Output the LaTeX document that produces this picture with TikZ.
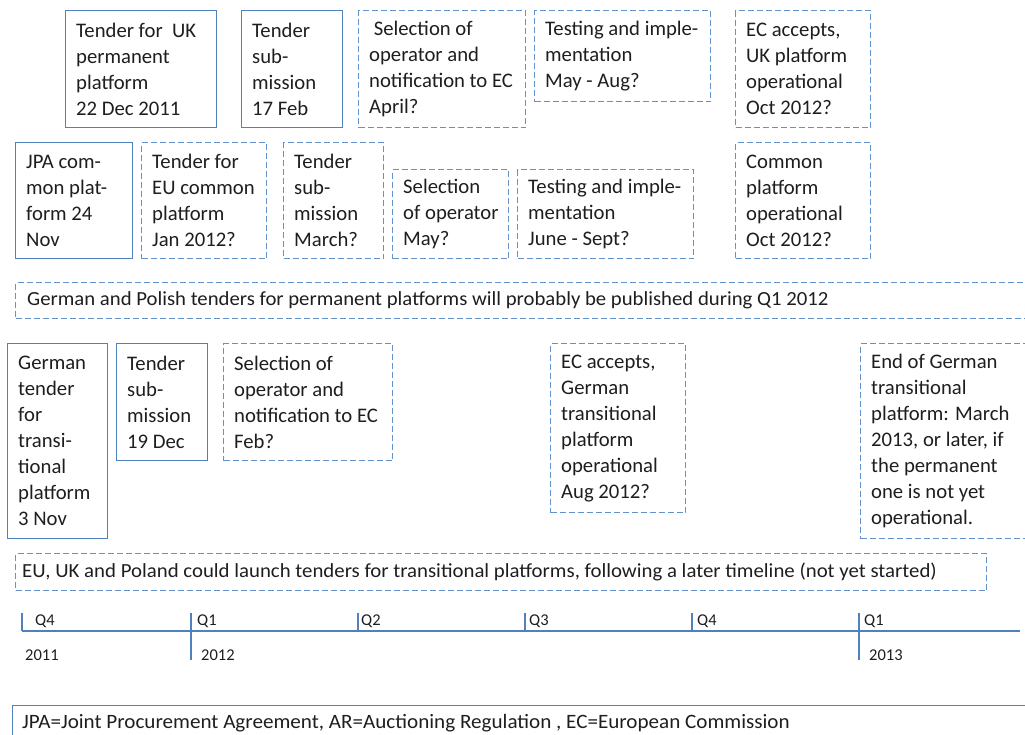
\documentclass[tikz,border=0pt]{standalone}
\usepackage{fontspec}
\usepackage{graphicx}
\setmainfont{Carlito}
\definecolor{txt}{RGB}{30,30,30}
\definecolor{solidblue}{RGB}{79,129,189}
\definecolor{dashblue}{RGB}{98,146,206}
\newcommand{\boxfont}{\fontsize{20.7}{26}\selectfont}
\newcommand{\banfont}{\fontsize{20}{26}\selectfont}
\newcommand{\legfont}{\fontsize{20.4}{26}\selectfont}
\newcommand{\qfont}{\fontsize{16.5}{20}\selectfont}
\newcommand{\wide}[1]{\scalebox{1.037}[1]{#1}}
\tikzset{
  boxbase/.style={anchor=north west, inner sep=0pt, line width=1.4pt},
  solidbox/.style={boxbase, draw=solidblue},
  dashbox/.style={boxbase, draw=dashblue, dash pattern=on 6pt off 3pt},
  boxtext/.style={anchor=west, inner sep=0pt, align=left, text=txt, font=\boxfont},
  axis/.style={draw=solidblue, line width=1.4pt},
  qlabel/.style={anchor=west, inner sep=0pt, text=txt, font=\qfont},
}
\begin{document}
\begin{tikzpicture}[x=1pt,y=-1pt]
\useasboundingbox (0,0) rectangle (1025,734);
\clip (0,0) rectangle (1025,734);
% Row 1
\node[solidbox, minimum width=151pt, minimum height=117pt] (a1) at (65,10) {};
\node[boxtext] (a1t) at ([xshift=11pt]a1.west) {Tender for\ \ UK\\permanent\\platform\\22 Dec 2011};
\node[solidbox, minimum width=101pt, minimum height=117pt] (a2) at (241,10) {};
\node[boxtext] (a2t) at ([xshift=11pt]a2.west) {Tender\\sub-\\mission\\17 Feb};
\node[dashbox, minimum width=167pt, minimum height=117pt] (a3) at (358,10) {};
\node[boxtext] (a3t) at ([xshift=11pt]a3.west) {\ Selection of\\operator and\\notification to EC\\April?};
\node[dashbox, minimum width=176pt, minimum height=91pt] (a4) at (534,10) {};
\node[boxtext] (a4t) at ([xshift=11pt]a4.west) {Testing and imple-\\mentation\\May - Aug?};
\node[dashbox, minimum width=135pt, minimum height=117pt] (a5) at (735,10) {};
\node[boxtext] (a5t) at ([xshift=11pt]a5.west) {EC accepts,\\UK platform\\operational\\Oct 2012?};
% Row 2
\node[solidbox, minimum width=117pt, minimum height=116pt] (b1) at (15,142) {};
\node[boxtext] (b1t) at ([xshift=11pt]b1.west) {JPA com-\\mon plat-\\form 24\\Nov};
\node[dashbox, minimum width=125pt, minimum height=116pt] (b2) at (141,142) {};
\node[boxtext] (b2t) at ([xshift=11pt]b2.west) {Tender for\\EU common\\platform\\Jan 2012?};
\node[dashbox, minimum width=100pt, minimum height=116pt] (b3) at (283,142) {};
\node[boxtext] (b3t) at ([xshift=11pt]b3.west) {Tender\\sub-\\mission\\March?};
\node[dashbox, minimum width=116pt, minimum height=89pt] (b4) at (392,169) {};
\node[boxtext] (b4t) at ([xshift=11pt]b4.west) {Selection\\of operator\\May?};
\node[dashbox, minimum width=176pt, minimum height=89pt] (b5) at (517,169) {};
\node[boxtext] (b5t) at ([xshift=11pt]b5.west) {Testing and imple-\\mentation\\June - Sept?};
\node[dashbox, minimum width=135pt, minimum height=116pt] (b6) at (735,142) {};
\node[boxtext] (b6t) at ([xshift=11pt]b6.west) {Common\\platform\\operational\\Oct 2012?};
% Banner 1
\node[dashbox, minimum width=1030pt, minimum height=36pt] (ban1) at (15,282) {};
\node[boxtext, font=\banfont] (ban1t) at ([xshift=12pt]ban1.west) {\wide{German and Polish tenders for permanent platforms will probably be published during Q1 2012}};
% Row 3
\node[solidbox, minimum width=100pt, minimum height=195pt] (c1) at (7,343) {};
\node[boxtext] (c1t) at ([xshift=11pt]c1.west) {German\\tender\\for\\transi-\\tional\\platform\\3 Nov};
\node[solidbox, minimum width=91pt, minimum height=117pt] (c2) at (116,343) {};
\node[boxtext] (c2t) at ([xshift=11pt]c2.west) {Tender\\sub-\\mission\\19 Dec};
\node[dashbox, minimum width=169pt, minimum height=117pt] (c3) at (223,343) {};
\node[boxtext] (c3t) at ([xshift=11pt]c3.west) {Selection of\\operator and\\notification to EC\\Feb?};
\node[dashbox, minimum width=135pt, minimum height=169pt] (c4) at (550,343) {};
\node[boxtext] (c4t) at ([xshift=11pt]c4.west) {EC accepts,\\German\\transitional\\platform\\operational\\Aug 2012?};
\node[dashbox, minimum width=180pt, minimum height=195pt] (c5) at (860,343) {};
\node[boxtext] (c5t) at ([xshift=11pt]c5.west) {End of German\\transitional\\platform: March\\2013, or later, if\\the permanent\\one is not yet\\operational.};
% Banner 2
\node[dashbox, minimum width=971pt, minimum height=37pt] (ban2) at (15,553) {};
\node[boxtext, font=\banfont] (ban2t) at ([xshift=7pt]ban2.west) {\scalebox{1.041}[1]{EU, UK and Poland could launch tenders for transitional platforms, following a later timeline (not yet started)}};
% Timeline
\coordinate (tl0) at (22,631);
\coordinate (tlE) at (1020,631);
\draw[axis] (tl0) -- (tlE);
\coordinate (t0) at (22,613);
\coordinate (t1) at (191,613);
\coordinate (t2) at (358,613);
\coordinate (t3) at (525,613);
\coordinate (t4) at (692,613);
\coordinate (t5) at (859,613);
\coordinate (t0b) at (22,631);
\coordinate (t1b) at (191,660);
\coordinate (t2b) at (358,631);
\coordinate (t3b) at (525,631);
\coordinate (t4b) at (692,631);
\coordinate (t5b) at (859,660);
\draw[axis] (t0) -- (t0b);
\draw[axis] (t1) -- (t1b);
\draw[axis] (t2) -- (t2b);
\draw[axis] (t3) -- (t3b);
\draw[axis] (t4) -- (t4b);
\draw[axis] (t5) -- (t5b);
\node[qlabel] (q0) at (35,621) {Q4};
\node[qlabel] (q1) at (197,621) {Q1};
\node[qlabel] (q2) at (361,621) {Q2};
\node[qlabel] (q3) at (529,621) {Q3};
\node[qlabel] (q4) at (697,621) {Q4};
\node[qlabel] (q5) at (864,621) {Q1};
\node[qlabel] (y0) at (25,655) {2011};
\node[qlabel] (y1) at (201,655) {2012};
\node[qlabel] (y2) at (869,655) {2013};
% Bottom legend
\node[solidbox, minimum width=1030pt, minimum height=34pt] (legend) at (12,705) {};
\node[boxtext, font=\legfont] (legendt) at ([xshift=10pt]legend.west) {\scalebox{1.035}[1]{JPA=Joint Procurement Agreement, AR=Auctioning Regulation , EC=European Commission}};
\end{tikzpicture}
\end{document}
